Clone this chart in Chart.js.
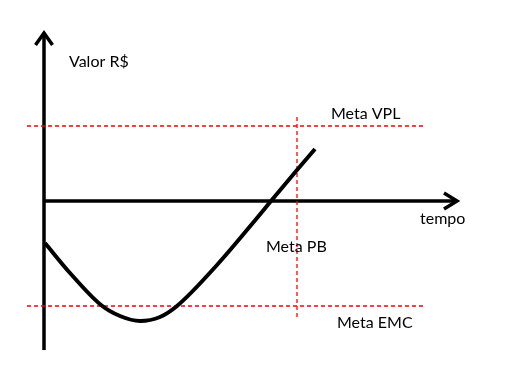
<!DOCTYPE html>
<html>
<head>
<meta charset="utf-8">
<script src="https://cdn.jsdelivr.net/npm/chart.js@4/dist/chart.umd.min.js"></script>
<style>
  html, body { margin: 0; padding: 0; background: #fff; }
  canvas { display: block; }
</style>
</head>
<body>
<canvas id="myChart" width="507" height="386"></canvas>
<script>
// curva do valor ao longo do tempo (unidades do diagrama)
var tempo = [0.1, 2.6, 5.7, 7.6, 9.6, 11.6, 13.3, 17.3, 21.3, 22.7, 25.3, 27.1];
var valor = [-4.2, -7.2, -10.4, -11.5, -12.0, -11.6, -10.5, -6.4, -1.7, 0, 3.1, 5.2];

// metas
var metaVPL = 7.5;
var metaEMC = -10.5;
var metaPB = 25.3;
var metaRange = [-1.7, 38.0];    // extensão das linhas horizontais
var metaPBRange = [-11.6, 8.6];  // extensão da linha vertical

// eixos
var eixoY = [-14.9, 16.9];
var eixoX = [0, 41.4];

var textos = [
    { t: 'Valor R$', x: 2.5, y: 13.9 },
    { t: 'Meta VPL', x: 28.7, y: 8.7 },
    { t: 'tempo', x: 37.6, y: -1.8 },
    { t: 'Meta PB', x: 22.2, y: -4.6 },
    { t: 'Meta EMC', x: 29.3, y: -12.2 }
];

var curva = tempo.map(function (t, i) { return { x: t, y: valor[i] }; });
var red = '#ff0000';
var dash = [4, 3];

var eixosPlugin = {
    id: 'eixos',
    beforeDatasetsDraw: function (chart) {
        var c = chart.ctx, sx = chart.scales.x, sy = chart.scales.y;
        var x0 = sx.getPixelForValue(0), y0 = sy.getPixelForValue(0);
        var yTop = sy.getPixelForValue(eixoY[1]), yBot = sy.getPixelForValue(eixoY[0]);
        var xEnd = sx.getPixelForValue(eixoX[1]);
        c.save();
        c.strokeStyle = '#000';
        c.lineWidth = 3.5;
        c.lineCap = 'butt';
        c.beginPath();
        c.moveTo(x0, yBot); c.lineTo(x0, yTop + 2);
        c.moveTo(x0, y0); c.lineTo(xEnd - 2, y0);
        c.stroke();
        c.lineJoin = 'miter';
        c.beginPath();
        c.moveTo(x0 - 8.5, yTop + 13); c.lineTo(x0, yTop + 1); c.lineTo(x0 + 8.5, yTop + 13);
        c.moveTo(xEnd - 14, y0 - 8); c.lineTo(xEnd - 1, y0); c.lineTo(xEnd - 14, y0 + 8);
        c.stroke();
        c.restore();
    },
    afterDraw: function (chart) {
        var c = chart.ctx, sx = chart.scales.x, sy = chart.scales.y;
        c.save();
        c.fillStyle = '#000';
        c.font = '16px Lato, "Open Sans", sans-serif';
        c.textBaseline = 'middle';
        textos.forEach(function (o) {
            c.fillText(o.t, sx.getPixelForValue(o.x), sy.getPixelForValue(o.y));
        });
        c.restore();
    }
};

new Chart(document.getElementById('myChart'), {
    type: 'scatter',
    data: {
        datasets: [{
            data: curva,
            showLine: true,
            borderColor: '#000',
            borderWidth: 4,
            pointRadius: 0,
            tension: 0.4,
            cubicInterpolationMode: 'monotone'
        }, {
            data: [{ x: metaRange[0], y: metaVPL }, { x: metaRange[1], y: metaVPL }],
            showLine: true, borderColor: red, borderWidth: 1.3, borderDash: dash, pointRadius: 0
        }, {
            data: [{ x: metaRange[0], y: metaEMC }, { x: metaRange[1], y: metaEMC }],
            showLine: true, borderColor: red, borderWidth: 1.3, borderDash: dash, pointRadius: 0
        }, {
            data: [{ x: metaPB, y: metaPBRange[0] }, { x: metaPB, y: metaPBRange[1] }],
            showLine: true, borderColor: red, borderWidth: 1.3, borderDash: dash, pointRadius: 0
        }]
    },
    options: {
        responsive: false,
        animation: false,
        layout: { padding: 0 },
        plugins: { legend: { display: false }, tooltip: { enabled: false } },
        scales: {
            x: { type: 'linear', min: -4.4, max: 46.3, display: false },
            y: { type: 'linear', min: -18.5, max: 20.1, display: false }
        }
    },
    plugins: [eixosPlugin]
});
</script>
</body>
</html>
